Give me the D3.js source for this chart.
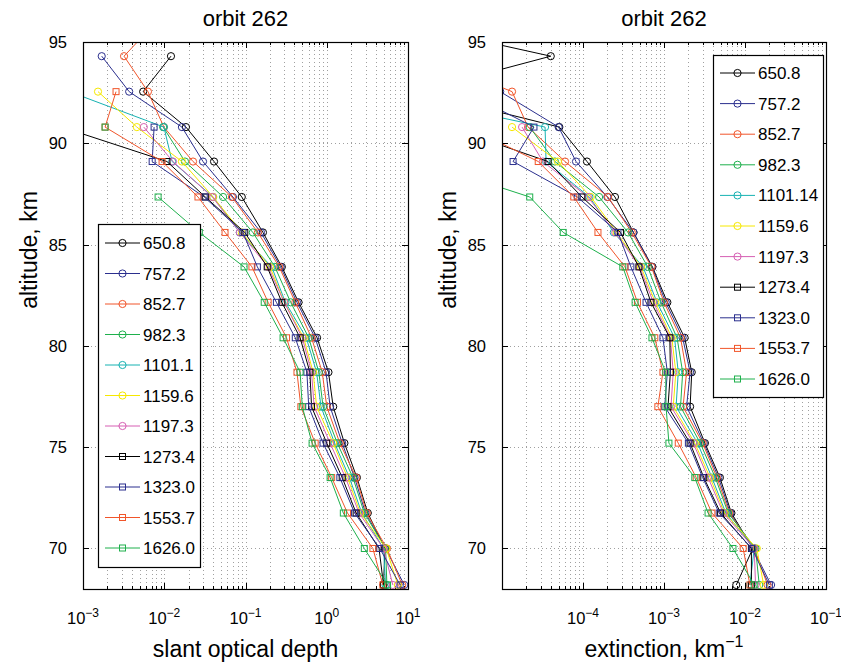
<!DOCTYPE html>
<html>
<head>
<meta charset="utf-8">
<script src="https://cdn.jsdelivr.net/npm/d3@7"></script>
<style>
  body { margin: 0; background: #fff; }
  text { font-family: "Liberation Sans", Arial, Helvetica, sans-serif; fill: #000; }
</style>
</head>
<body>
<div id="chart"></div>
<script>
// altitude levels, km (bottom to top)
const altitude = [68.2, 70.0, 71.75, 73.5, 75.2, 77.0, 78.7, 80.4, 82.15, 83.9, 85.6, 87.35, 89.1, 90.8, 92.55, 94.3, 96.0];

const wavelengths = ["650.8", "757.2", "852.7", "982.3", "1101.1", "1159.6", "1197.3", "1273.4", "1323.0", "1553.7", "1626.0"];
const wavelengthsRight = ["650.8", "757.2", "852.7", "982.3", "1101.14", "1159.6", "1197.3", "1273.4", "1323.0", "1553.7", "1626.0"];
const colors = ["#000000", "#2b2f8e", "#f1552a", "#1eb04c", "#17b2b2", "#f6e800", "#d65fb3", "#000000", "#2b2f8e", "#f1552a", "#1eb04c"];
const markers = ["circle", "circle", "circle", "circle", "circle", "circle", "circle", "square", "square", "square", "square"];

// slant optical depth, one array per wavelength
const sod650 = [5.0, 5.2, 3.2, 2.35, 1.65, 1.2, 1.05, 0.76, 0.45, 0.28, 0.164, 0.09, 0.041, 0.0185, 0.0055, 0.0121, null];
const sod757 = [9.0, 5.3, 3.0, 2.2, 1.55, 1.1, 0.98, 0.72, 0.43, 0.27, 0.155, 0.07, 0.030, 0.0165, 0.0037, 0.0017, null];
const sod852 = [8.5, 5.5, 3.1, 2.3, 1.45, 1.0, 0.88, 0.65, 0.41, 0.26, 0.142, 0.068, 0.0226, 0.0099, 0.0063, 0.0032, 0.008];
const sod982 = [5.5, 5.3, 2.9, 2.1, 1.35, 0.9, 0.8, 0.6, 0.36, 0.23, 0.123, 0.053, 0.018, 0.0097, null, null, null];
const sod1101 = [5.3, 5.0, 2.7, 1.9, 1.25, 0.85, 0.75, 0.56, 0.31, 0.21, 0.085, 0.04, 0.0125, 0.0099, 0.00068, null, null];
const sod1159 = [7.5, 5.4, 2.6, 1.8, 1.2, 0.75, 0.68, 0.52, 0.3, 0.2, 0.09, 0.04, 0.0165, 0.0046, 0.00153, null, null];
const sod1197 = [6.5, 5.0, 2.5, 1.7, 1.1, 0.7, 0.65, 0.5, 0.3, 0.19, 0.085, 0.039, 0.0128, 0.0056, null, null, null];
const sod1273 = [5.0, 4.4, 2.3, 1.55, 1.0, 0.65, 0.62, 0.47, 0.28, 0.185, 0.098, 0.032, 0.0108, 0.00055, null, null, null];
const sod1323 = [8.0, 4.5, 2.2, 1.45, 0.9, 0.6, 0.57, 0.41, 0.24, 0.14, 0.093, 0.031, 0.0071, 0.0075, null, null, null];
const sod1553 = [4.9, 3.7, 1.8, 1.15, 0.72, 0.48, 0.43, 0.32, 0.19, 0.12, 0.056, 0.026, 0.0094, 0.00187, 0.00255, null, null];
const sod1626 = [5.6, 2.9, 1.6, 1.1, 0.66, 0.5, 0.47, 0.29, 0.17, 0.096, 0.027, 0.0084, null, 0.00187, null, null, null];

// extinction, km^-1
const ext650 = [0.0078, 0.0125, 0.0068, 0.0049, 0.0032, 0.0021, 0.0022, 0.0018, 0.0011, 0.00072, 0.00042, 2.48e-4, 1.12e-4, 5.1e-5, 9e-7, 4.0e-5, 4.8e-7];
const ext757 = [0.021, 0.0125, 0.0066, 0.0047, 0.0031, 0.0019, 0.0021, 0.0017, 0.00105, 0.00071, 0.00042, 2.0e-4, 8.2e-5, 5.0e-5, 9.5e-6, null, null];
const ext852 = [0.019, 0.013, 0.0064, 0.0045, 0.0030, 0.00172, 0.0019, 0.0016, 0.001, 0.0007, 0.0004, 2.04e-4, 6.0e-5, 2.1e-5, 1.33e-5, 1.1e-6, null];
const ext982 = [0.015, 0.0135, 0.0062, 0.0043, 0.0028, 0.0016, 0.0017, 0.00145, 0.00092, 0.00063, 0.00036, 1.58e-4, 4.5e-5, 2.2e-5, null, null, null];
const ext1101 = [0.0115, 0.013, 0.0058, 0.0039, 0.0026, 0.00141, 0.0015, 0.00135, 0.00082, 0.00055, 0.00024, 1.2e-4, 3.5e-5, 3.4e-5, 3e-7, null, null];
const ext1159 = [0.017, 0.014, 0.0056, 0.0037, 0.0024, 0.0013, 0.0014, 0.00125, 0.00078, 0.00052, 0.00026, 1.25e-4, 4.9e-5, 1.33e-5, null, null, null];
const ext1197 = [0.0135, 0.013, 0.0054, 0.0035, 0.0023, 0.00122, 0.0013, 0.0012, 0.00074, 0.0005, 0.00025, 1.15e-4, 3.2e-5, 1.77e-5, null, null, null];
const ext1273 = [0.012, 0.012, 0.0050, 0.0031, 0.0021, 0.00112, 0.0012, 0.00118, 0.00069, 0.00049, 0.00029, 9.7e-5, 3.7e-5, 2.2e-6, null, null, null];
const ext1323 = [0.02, 0.0122, 0.0048, 0.003, 0.002, 0.00102, 0.0011, 0.00097, 0.0006, 0.00039, 0.00027, 8.5e-5, 1.37e-5, 2.48e-5, 3.4e-6, null, null];
const ext1553 = [0.0115, 0.0095, 0.0039, 0.0025, 0.0015, 0.00084, 0.00097, 0.00077, 0.00047, 0.00033, 0.000153, 7.7e-5, 2.8e-5, 3.8e-6, null, null, null];
const ext1626 = [0.013, 0.0071, 0.0035, 0.0024, 0.00115, 0.00106, 0.00105, 0.00071, 0.00044, 0.00031, 5.7e-5, 2.2e-5, 1e-6, null, null, null, null];

const slantDepth = [sod650, sod757, sod852, sod982, sod1101, sod1159, sod1197, sod1273, sod1323, sod1553, sod1626];
const extinction = [ext650, ext757, ext852, ext982, ext1101, ext1159, ext1197, ext1273, ext1323, ext1553, ext1626];

const yTicks = [70, 75, 80, 85, 90, 95];
const xTicksLeft = [1e-3, 1e-2, 1e-1, 1, 10];
const xTicksRight = [1e-4, 1e-3, 1e-2, 1e-1];

const W = 841, H = 668;
const svg = d3.select("#chart").append("svg")
  .attr("width", W).attr("height", H);

function drawPanel(cfg) {
  const x = d3.scaleLog().domain(cfg.xDomain).range([cfg.left, cfg.right]);
  const y = d3.scaleLinear().domain([68, 95]).range([cfg.bottom, cfg.top]);
  const g = svg.append("g");

  // clip
  g.append("clipPath").attr("id", cfg.id + "clip")
    .append("rect")
    .attr("x", cfg.left).attr("y", cfg.top)
    .attr("width", cfg.right - cfg.left).attr("height", cfg.bottom - cfg.top);

  // grid lines (major + minor on the log axis)
  const lo = Math.round(Math.log10(cfg.xDomain[0])), hi = Math.round(Math.log10(cfg.xDomain[1]));
  const minor = [];
  for (let e = lo; e < hi; e++) for (let k = 2; k <= 9; k++) minor.push(k * Math.pow(10, e));
  const major = d3.range(lo, hi + 1).map(e => Math.pow(10, e));
  const grid = g.append("g").attr("stroke", "#a0a0a0").attr("stroke-width", 1)
    .attr("stroke-dasharray", "1,3");
  grid.selectAll(".vg").data(major.concat(minor)).enter().append("line")
    .attr("x1", d => Math.round(x(d)) + 0.5).attr("x2", d => Math.round(x(d)) + 0.5)
    .attr("y1", cfg.top).attr("y2", cfg.bottom);
  grid.selectAll(".hg").data(yTicks).enter().append("line")
    .attr("y1", d => Math.round(y(d)) + 0.5).attr("y2", d => Math.round(y(d)) + 0.5)
    .attr("x1", cfg.left).attr("x2", cfg.right);

  // ticks (inward, on all four sides)
  const ticks = g.append("g").attr("stroke", "#000").attr("stroke-width", 1);
  major.forEach(d => {
    const xx = Math.round(x(d)) + 0.5;
    ticks.append("line").attr("x1", xx).attr("x2", xx).attr("y1", cfg.bottom).attr("y2", cfg.bottom - 6);
    ticks.append("line").attr("x1", xx).attr("x2", xx).attr("y1", cfg.top).attr("y2", cfg.top + 6);
  });
  minor.forEach(d => {
    const xx = Math.round(x(d)) + 0.5;
    ticks.append("line").attr("x1", xx).attr("x2", xx).attr("y1", cfg.bottom).attr("y2", cfg.bottom - 3);
    ticks.append("line").attr("x1", xx).attr("x2", xx).attr("y1", cfg.top).attr("y2", cfg.top + 3);
  });
  yTicks.forEach(d => {
    const yy = Math.round(y(d)) + 0.5;
    ticks.append("line").attr("x1", cfg.left).attr("x2", cfg.left + 6).attr("y1", yy).attr("y2", yy);
    ticks.append("line").attr("x1", cfg.right).attr("x2", cfg.right - 6).attr("y1", yy).attr("y2", yy);
  });

  // data
  const plot = g.append("g").attr("clip-path", "url(#" + cfg.id + "clip)");
  cfg.values.forEach((vals, i) => {
    const pts = vals.map((v, j) => ({ v: v, a: altitude[j] }));
    const line = d3.line().defined(d => d.v != null && d.v > 0)
      .x(d => x(d.v)).y(d => y(d.a));
    plot.append("path").datum(pts)
      .attr("d", line)
      .attr("fill", "none").attr("stroke", colors[i]).attr("stroke-width", 1);
    const good = pts.filter(d => d.v != null && d.v > 0);
    drawMarkers(plot, good, markers[i], colors[i], d => x(d.v), d => y(d.a));
  });

  // frame
  g.append("rect")
    .attr("x", cfg.left + 0.5).attr("y", cfg.top + 0.5)
    .attr("width", cfg.right - cfg.left).attr("height", cfg.bottom - cfg.top)
    .attr("fill", "none").attr("stroke", "#000").attr("stroke-width", 1.2);

  // tick labels
  g.selectAll(".yl").data(yTicks).enter().append("text")
    .attr("x", cfg.left - 16).attr("y", d => y(d) + 6)
    .attr("text-anchor", "end").attr("font-size", 16.5)
    .text(d => d);
  cfg.xTicks.forEach(d => {
    const t = g.append("text")
      .attr("x", x(d)).attr("y", cfg.bottom + 35)
      .attr("text-anchor", "middle").attr("font-size", 16.5);
    t.append("tspan").text("10");
    t.append("tspan").attr("font-size", 12).attr("dy", -7)
      .text(String(Math.round(Math.log10(d))).replace("-", "\u2212"));
  });

  // titles
  g.append("text").attr("x", (cfg.left + cfg.right) / 2).attr("y", 26)
    .attr("text-anchor", "middle").attr("font-size", 22).text("orbit 262");
  const xl = g.append("text").attr("x", (cfg.left + cfg.right) / 2).attr("y", 657)
    .attr("text-anchor", "middle").attr("font-size", 23);
  xl.append("tspan").text(cfg.xLabel);
  if (cfg.xSup) xl.append("tspan").attr("font-size", 16).attr("dy", -10).text(cfg.xSup);
  g.append("text")
    .attr("transform", "translate(" + (cfg.left - 46) + "," + cfg.yLabelMid + ") rotate(-90)")
    .attr("text-anchor", "middle").attr("font-size", 23).text("altitude, km");

  // legend
  const L = cfg.legend;
  const lg = g.append("g");
  lg.append("rect").attr("x", L.x + 0.5).attr("y", L.y + 0.5).attr("width", L.w).attr("height", L.h)
    .attr("fill", "#fff").attr("stroke", "#000").attr("stroke-width", 1.2);
  cfg.labels.forEach((lab, i) => {
    const yy = L.y + L.first + i * L.step;
    lg.append("line").attr("x1", L.x + 7).attr("x2", L.x + 42).attr("y1", yy).attr("y2", yy)
      .attr("stroke", colors[i]).attr("stroke-width", 1);
    drawMarkers(lg, [0], markers[i], colors[i], () => L.x + 24.5, () => yy);
    lg.append("text").attr("x", L.x + 45).attr("y", yy + 6)
      .attr("font-size", 17).text(lab);
  });
}

function drawMarkers(sel, data, type, color, fx, fy) {
  if (type === "circle") {
    sel.selectAll(null).data(data).enter().append("circle")
      .attr("cx", fx).attr("cy", fy).attr("r", 3.6)
      .attr("fill", "none").attr("stroke", color).attr("stroke-width", 1);
  } else {
    sel.selectAll(null).data(data).enter().append("rect")
      .attr("x", d => fx(d) - 3).attr("y", d => fy(d) - 3)
      .attr("width", 6).attr("height", 6)
      .attr("fill", "none").attr("stroke", color).attr("stroke-width", 1);
  }
}

drawPanel({
  id: "l", left: 83, right: 408, top: 42, bottom: 589, yLabelMid: 250,
  xDomain: [1e-3, 10], xTicks: xTicksLeft, values: slantDepth,
  labels: wavelengths, xLabel: "slant optical depth",
  legend: { x: 98, y: 224, w: 102, h: 343, first: 19, step: 30.5 }
});
drawPanel({
  id: "r", left: 502, right: 826, top: 42, bottom: 589, yLabelMid: 250,
  xDomain: [1e-5, 1e-1], xTicks: xTicksRight, values: extinction,
  labels: wavelengthsRight, xLabel: "extinction, km", xSup: "\u22121",
  legend: { x: 713, y: 55, w: 110, h: 342, first: 18, step: 30.6 }
});
</script>
</body>
</html>
